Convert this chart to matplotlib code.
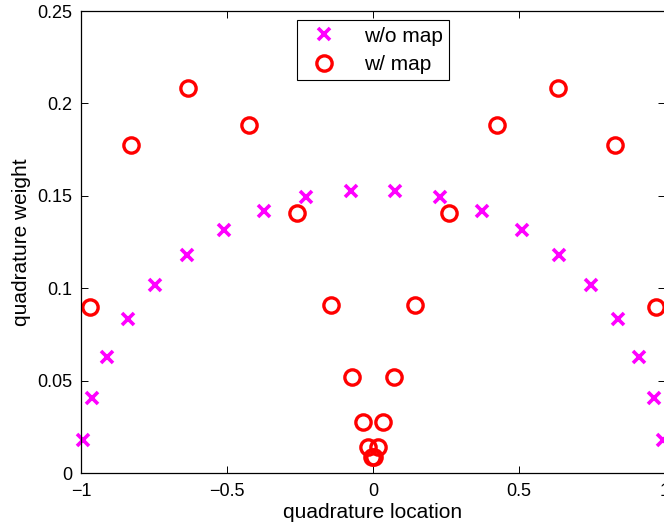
import matplotlib
matplotlib.use("Agg")
import matplotlib.pyplot as plt

plt.rcParams['font.family'] = ['Liberation Sans', 'DejaVu Sans']

# w/o map (nodes/weights)
x_nomap = [-0.993, -0.964, -0.912, -0.839, -0.746, -0.636, -0.511, -0.374, -0.228, -0.077,
           0.077, 0.228, 0.374, 0.511, 0.636, 0.746, 0.839, 0.912, 0.964, 0.993]
w_nomap = [0.0176, 0.0406, 0.0627, 0.0833, 0.1019, 0.1181, 0.1316, 0.1420, 0.1491, 0.1527,
           0.1527, 0.1491, 0.1420, 0.1316, 0.1181, 0.1019, 0.0833, 0.0627, 0.0406, 0.0176]

# w/ map
x_map = [-0.969, -0.829, -0.634, -0.425, -0.260, -0.145, -0.073, -0.034, -0.017, -0.003,
         0.003, 0.017, 0.034, 0.073, 0.145, 0.260, 0.425, 0.634, 0.829, 0.969]
w_map = [0.0898, 0.1775, 0.2083, 0.1883, 0.1407, 0.0909, 0.0519, 0.0276, 0.0141, 0.0087,
         0.0087, 0.0141, 0.0276, 0.0519, 0.0909, 0.1407, 0.1883, 0.2083, 0.1775, 0.0898]

xticks = [-1, -0.5, 0, 0.5, 1]
xticklabels = ['\u22121', '\u22120.5', '0', '0.5', '1']
yticks = [0, 0.05, 0.1, 0.15, 0.2, 0.25]
yticklabels = ['0', '0.05', '0.1', '0.15', '0.2', '0.25']

fig = plt.figure(figsize=(6.64, 5.32), dpi=100)
ax = fig.add_axes([81/664, 1-473/532, 584/664, 462/532])

ax.plot(x_nomap, w_nomap, linestyle='none', marker='x', color='#ff00ff',
        markersize=8, markeredgewidth=2.6, label='w/o map', clip_on=False)
ax.plot(x_map, w_map, linestyle='none', marker='o', markerfacecolor='none',
        markeredgecolor='#ff0000', markersize=11, markeredgewidth=2.4, label='w/ map')

ax.set_xlim(-1, 1)
ax.set_ylim(0, 0.25)
ax.set_xticks(xticks)
ax.set_xticklabels(xticklabels)
ax.set_yticks(yticks)
ax.set_yticklabels(yticklabels)
ax.tick_params(direction='in', top=True, right=True, labelsize=13, length=5, width=0.7)
ax.tick_params(axis='x', pad=7)
ax.tick_params(axis='y', pad=6)
for s in ax.spines.values():
    s.set_linewidth(0.9)

ax.set_xlabel('quadrature location', fontsize=15, labelpad=2)
ax.set_ylabel('quadrature weight', fontsize=15, labelpad=5)

leg = ax.legend(loc='upper center', bbox_to_anchor=(0.5, 0.993), fontsize=15,
                frameon=True, fancybox=False, edgecolor='black', framealpha=1,
                handlelength=2.0, borderpad=0.3, labelspacing=0.45, handletextpad=0.9,
                borderaxespad=0.3)
leg.get_frame().set_linewidth(0.8)

fig.savefig('out.png', dpi=100)
